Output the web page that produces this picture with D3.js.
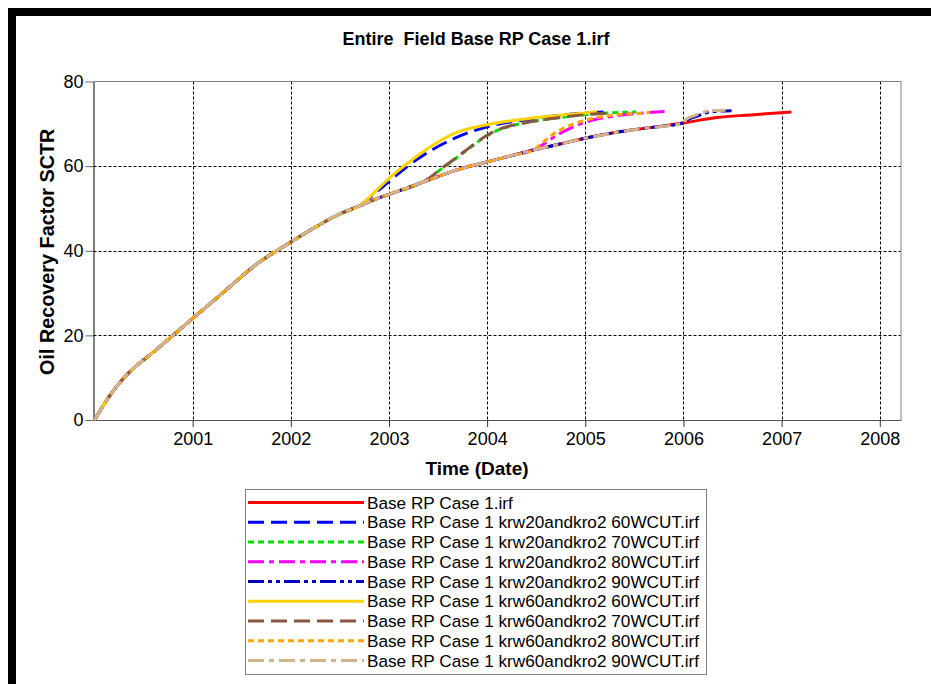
<!DOCTYPE html>
<html>
<head>
<meta charset="utf-8">
<script src="https://cdn.jsdelivr.net/npm/d3@7/dist/d3.min.js"></script>
<style>
  html, body { margin: 0; padding: 0; background: #fff; }
  svg { display: block; font-family: "Liberation Sans", Arial, sans-serif; }
</style>
</head>
<body>
<svg id="chart" width="931" height="684"></svg>
<script>
// ---- data: oil recovery factor (%) against time (decimal years) ----
// Shared history of the base case (all cases coincide until they branch)
const baseTime  = [2000.00, 2000.16, 2000.31, 2000.64, 2000.82, 2001.00, 2001.31, 2001.65, 2001.99, 2002.23, 2002.50, 2002.69, 2002.91, 2003.01, 2003.32, 2003.72, 2004.00, 2004.27, 2004.47, 2004.61, 2005.02, 2005.35, 2005.66, 2006.00, 2006.34, 2006.68, 2007.10];
const baseValue = [0.0, 5.9, 10.2, 16.8, 20.4, 24.0, 30.1, 36.8, 41.9, 45.3, 48.7, 50.5, 52.6, 53.4, 56.0, 59.3, 61.0, 62.6, 63.8, 64.5, 66.7, 68.1, 69.1, 70.2, 71.5, 72.1, 72.8];

// Branch points: each case follows the base history up to branchAt, then its own points
const seriesNames = [
  "Base RP Case 1.irf",
  "Base RP Case 1 krw20andkro2 60WCUT.irf",
  "Base RP Case 1 krw20andkro2 70WCUT.irf",
  "Base RP Case 1 krw20andkro2 80WCUT.irf",
  "Base RP Case 1 krw20andkro2 90WCUT.irf",
  "Base RP Case 1 krw60andkro2 60WCUT.irf",
  "Base RP Case 1 krw60andkro2 70WCUT.irf",
  "Base RP Case 1 krw60andkro2 80WCUT.irf",
  "Base RP Case 1 krw60andkro2 90WCUT.irf"
];
const branchAt = [2007.10, 2002.69, 2003.32, 2004.47, 2006.00, 2002.69, 2003.32, 2004.47, 2006.00];

const branchTime = [
  [],
  [2002.91, 2003.01, 2003.18, 2003.45, 2003.66, 2004.00, 2004.44, 2005.02, 2005.22],
  [2003.42, 2003.52, 2003.64, 2003.81, 2004.00, 2004.10, 2004.20, 2004.40, 2004.68, 2005.02, 2005.25, 2005.52],
  [2004.54, 2004.71, 2004.91, 2005.08, 2005.35, 2005.62, 2005.86],
  [2006.05, 2006.15, 2006.23, 2006.30, 2006.49],
  [2002.91, 2003.01, 2003.18, 2003.45, 2003.66, 2004.00, 2004.44, 2005.02, 2005.12],
  [2003.42, 2003.52, 2003.64, 2003.81, 2004.00, 2004.10, 2004.20, 2004.40, 2004.68, 2005.02, 2005.28],
  [2004.54, 2004.71, 2004.91, 2005.08, 2005.35, 2005.62, 2005.66],
  [2006.03, 2006.12, 2006.20, 2006.27, 2006.43]
];
const branchValue = [
  [],
  [54.6, 56.6, 59.8, 64.0, 66.5, 69.3, 71.1, 72.6, 72.8],
  [57.2, 59.1, 61.1, 64.1, 67.2, 68.4, 69.2, 70.3, 71.3, 72.2, 72.6, 72.8],
  [64.7, 67.3, 69.6, 70.9, 72.0, 72.6, 73.0],
  [71.0, 71.9, 72.6, 72.9, 73.1],
  [55.1, 57.3, 60.5, 65.0, 67.7, 69.8, 71.3, 72.6, 72.8],
  [57.3, 59.2, 61.2, 64.2, 67.3, 68.5, 69.3, 70.3, 71.3, 72.2, 72.6],
  [65.1, 68.1, 70.2, 71.3, 72.2, 72.6, 72.7],
  [71.1, 72.0, 72.7, 73.1, 73.2]
];

const seriesColors = ["#ff0000", "#0000ff", "#00dd00", "#ff00ff", "#0000c0", "#ffd200", "#8b5640", "#ffa500", "#d2b48c"];
const seriesDashes = [null, "16,7", "6,4", "16,5,5,5", "16,4,4,4,4,4", null, "16,7", "6,4", "16,5,5,5"];

const yTicks = [0, 20, 40, 60, 80];
const xTicks = [2001, 2002, 2003, 2004, 2005, 2006, 2007, 2008];

const title = "Entire  Field Base RP Case 1.irf";
const xTitle = "Time (Date)";
const yTitle = "Oil Recovery Factor SCTR";

// ---- layout ----
const svg = d3.select("#chart");
const plot = { left: 93.5, right: 901, top: 81.5, bottom: 420 };

const x = d3.scaleLinear().domain([1999.99, 2008.216]).range([plot.left, plot.right]);
const y = d3.scaleLinear().domain([0, 80]).range([plot.bottom, plot.top]);

// heavy black frame on the top and left edges
svg.append("rect").attr("x", 8).attr("y", 8).attr("width", 8).attr("height", 676).attr("fill", "#000");
svg.append("rect").attr("x", 8).attr("y", 8).attr("width", 923).attr("height", 8).attr("fill", "#000");

// title
svg.append("text")
  .attr("x", 476).attr("y", 45)
  .attr("text-anchor", "middle")
  .attr("font-size", 18).attr("font-weight", "bold")
  .attr("fill", "#000")
  .style("white-space", "pre")
  .text(title);

// grid lines
const grid = svg.append("g").attr("stroke", "#000").attr("stroke-width", 1).attr("stroke-dasharray", "3,2");
grid.selectAll("line.gx").data(xTicks).join("line")
  .attr("x1", d => Math.round(x(d)) + 0.5).attr("x2", d => Math.round(x(d)) + 0.5)
  .attr("y1", plot.top).attr("y2", plot.bottom);
grid.selectAll("line.gy").data(yTicks.filter(d => d > 0 && d < 80)).join("line")
  .attr("x1", plot.left).attr("x2", plot.right)
  .attr("y1", d => Math.round(y(d)) + 0.5).attr("y2", d => Math.round(y(d)) + 0.5);

// plot frame (top and right)
svg.append("line").attr("x1", plot.left).attr("x2", plot.right).attr("y1", plot.top).attr("y2", plot.top).attr("stroke", "#808080");
svg.append("line").attr("x1", plot.right).attr("x2", plot.right).attr("y1", plot.top).attr("y2", plot.bottom).attr("stroke", "#808080");

// axes
const xAxis = d3.axisBottom(x).tickValues(xTicks).tickFormat(d3.format("d")).tickSize(7).tickSizeOuter(0).tickPadding(5);
const gx = svg.append("g").attr("transform", `translate(0,${plot.bottom})`).call(xAxis);
gx.select(".domain").attr("stroke", "#555");
gx.selectAll(".tick line").attr("stroke", "#333");
gx.selectAll(".tick text").attr("font-size", 18).attr("font-family", "Liberation Sans, Arial, sans-serif").attr("fill", "#000");

const yAxis = d3.axisLeft(y).tickValues(yTicks).tickFormat(d3.format("d")).tickSize(8).tickSizeOuter(0).tickPadding(2);
const gy = svg.append("g").attr("transform", `translate(${plot.left},0)`).call(yAxis);
gy.select(".domain").attr("stroke", "#000");
gy.selectAll(".tick line").attr("stroke", "#666");
gy.selectAll(".tick text").attr("font-size", 18).attr("font-family", "Liberation Sans, Arial, sans-serif").attr("fill", "#000");

// axis titles
svg.append("text")
  .attr("x", 477).attr("y", 475)
  .attr("text-anchor", "middle")
  .attr("font-size", 19).attr("font-weight", "bold")
  .text(xTitle);
svg.append("text")
  .attr("transform", `translate(54,${(plot.top + plot.bottom) / 2 + 1}) rotate(-90)`)
  .attr("text-anchor", "middle")
  .attr("font-size", 19.8).attr("font-weight", "bold")
  .text(yTitle);

// build each series from the shared history plus its own branch
const series = seriesNames.map((name, i) => {
  const pts = [];
  baseTime.forEach((t, k) => { if (t <= branchAt[i] + 1e-9) pts.push([t, baseValue[k]]); });
  branchTime[i].forEach((t, k) => pts.push([t, branchValue[i][k]]));
  return { name, pts, color: seriesColors[i], dash: seriesDashes[i] };
});

const line = d3.line().x(d => x(d[0])).y(d => y(d[1])).curve(d3.curveMonotoneX);

const lines = svg.append("g").attr("fill", "none").attr("stroke-width", 3).attr("stroke-linejoin", "round");
series.forEach(s => {
  lines.append("path")
    .attr("d", line(s.pts))
    .attr("stroke", s.color)
    .attr("stroke-dasharray", s.dash);
});

// legend
const leg = { x: 245.5, y: 489.5, w: 461, h: 185, row: 19.75, first: 502.5 };
svg.append("rect").attr("x", leg.x).attr("y", leg.y).attr("width", leg.w).attr("height", leg.h)
  .attr("fill", "#fff").attr("stroke", "#808080");
const items = svg.append("g").selectAll("g").data(series).join("g")
  .attr("transform", (d, i) => `translate(0,${leg.first + i * leg.row})`);
items.append("line")
  .attr("x1", 248).attr("x2", 364).attr("y1", 0).attr("y2", 0)
  .attr("stroke", d => d.color).attr("stroke-width", 3)
  .attr("stroke-dasharray", d => d.dash);
items.append("text")
  .attr("x", 367).attr("y", 0).attr("dy", "0.35em")
  .attr("font-size", 17.2)
  .text(d => d.name);
</script>
</body>
</html>
